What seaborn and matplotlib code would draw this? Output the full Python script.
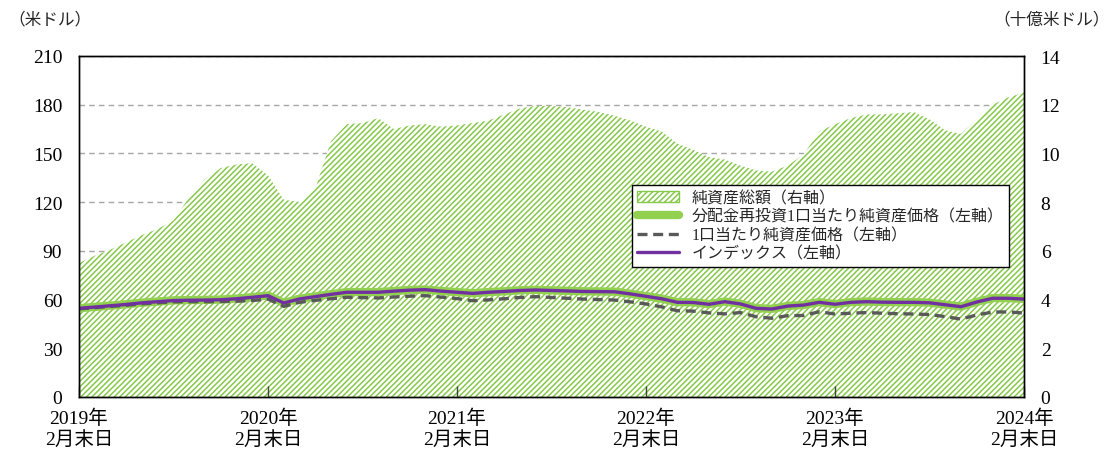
import numpy as np
import pandas as pd
import matplotlib
matplotlib.use('Agg')
import matplotlib.pyplot as plt
import seaborn as sns
from matplotlib.patches import Patch
from matplotlib.lines import Line2D

# monthly points, 2019-02 .. 2024-02 (month-end)
months = list(range(61))

# net assets (right axis, billion USD)
net_assets = [5.5, 5.8, 6.05, 6.35, 6.65, 6.9, 7.25, 8.2, 8.95, 9.4,
              9.55, 9.6, 9.1, 8.1, 8.0, 8.55, 10.5, 11.2, 11.25, 11.45,
              11.0, 11.15, 11.2, 11.1, 11.15, 11.25, 11.35, 11.6, 11.85, 11.95,
              11.95, 11.9, 11.8, 11.7, 11.55, 11.35, 11.1, 10.9, 10.4, 10.15,
              9.85, 9.75, 9.5, 9.3, 9.25, 9.5, 9.95, 10.9, 11.2, 11.45,
              11.6, 11.6, 11.65, 11.7, 11.4, 10.95, 10.8, 11.4, 12.0, 12.3,
              12.5]

# NAV per unit with distributions reinvested (left axis, USD)
nav_reinvest = [54.7, 55.5, 56.3, 57.1, 58.1, 58.8, 59.5, 59.7, 59.8, 60.0,
                60.6, 61.5, 62.5, 58.0, 60.5, 61.9, 63.3, 64.6, 64.6, 64.6,
                65.3, 65.9, 66.2, 65.3, 64.6, 63.9, 64.6, 65.1, 65.7, 66.0,
                65.7, 65.4, 65.1, 65.0, 64.9, 63.6, 62.1, 60.6, 58.4, 58.3,
                57.2, 58.8, 57.4, 54.7, 54.3, 56.1, 56.7, 58.4, 57.2, 58.4,
                58.8, 58.5, 58.4, 58.4, 58.1, 56.9, 55.7, 58.6, 60.9, 60.9,
                60.4]

# NAV per unit (left axis, USD)
nav_unit = [54.3, 55.0, 55.8, 56.5, 57.4, 58.0, 58.6, 58.7, 58.7, 58.8,
            59.0, 59.4, 60.3, 55.8, 58.3, 59.5, 60.5, 61.4, 61.2, 61.0,
            61.6, 62.1, 62.4, 61.5, 60.6, 59.3, 59.8, 60.5, 61.3, 61.8,
            61.3, 60.8, 60.3, 60.0, 59.7, 58.6, 57.3, 55.5, 53.1, 52.9,
            51.8, 51.2, 52.0, 49.4, 48.5, 50.1, 50.2, 52.5, 51.1, 51.6,
            52.0, 51.6, 51.3, 51.1, 50.8, 49.5, 48.0, 50.5, 52.3, 52.4,
            51.7]

# index (left axis, USD)
index_vals = [54.6, 55.4, 56.2, 57.0, 58.0, 58.7, 59.4, 59.6, 59.7, 59.9,
              60.5, 61.4, 62.4, 57.9, 60.4, 61.8, 63.2, 64.5, 64.5, 64.5,
              65.2, 65.8, 66.1, 65.2, 64.5, 63.8, 64.5, 65.0, 65.6, 65.9,
              65.6, 65.3, 65.0, 64.9, 64.8, 63.5, 62.0, 60.5, 58.3, 58.2,
              57.1, 58.7, 57.3, 54.6, 54.2, 56.0, 56.6, 58.3, 57.1, 58.3,
              58.7, 58.4, 58.3, 58.3, 58.0, 56.8, 55.6, 58.5, 60.8, 60.8,
              60.3]

year_ticks = [0, 12, 24, 36, 48, 60]
year_labels = ['2019年\n2月末日', '2020年\n2月末日', '2021年\n2月末日',
               '2022年\n2月末日', '2023年\n2月末日', '2024年\n2月末日']
left_ticks = [0, 30, 60, 90, 120, 150, 180, 210]
right_ticks = [0, 2, 4, 6, 8, 10, 12, 14]

LBL_AREA = '純資産総額（右軸）'
LBL_REINV = '分配金再投資1口当たり純資産価格（左軸）'
LBL_NAV = '1口当たり純資産価格（左軸）'
LBL_IDX = 'インデックス（左軸）'

GREEN = '#92d050'
HATCH_GREEN = '#86c84a'
PURPLE = '#7030a0'
DGRAY = '#595959'

sns.set_theme(style='white')
plt.rcParams['font.family'] = ['Liberation Serif', 'Noto Sans CJK JP']
plt.rcParams['hatch.linewidth'] = 1.1
plt.rcParams['axes.unicode_minus'] = False

df = pd.DataFrame({'month': months, 'reinvest': nav_reinvest,
                   'nav': nav_unit, 'index': index_vals, 'assets': net_assets})

fig = plt.figure(figsize=(11.14, 4.56), dpi=100)
ax = fig.add_axes([79 / 1114, 1 - 398 / 456, 945 / 1114, 341 / 456])
ax2 = ax.twinx()

# hatched area on the right axis, grid lives there too (behind the area)
ax2.fill_between(df['month'], 0, df['assets'], facecolor='white',
                 edgecolor=HATCH_GREEN, hatch='//////', linewidth=0, zorder=2)
ax2.set_ylim(0, 14)
ax2.set_yticks(right_ticks)
ax2.yaxis.grid(True, linestyle=(0, (4, 3)), color='#a6a6a6', linewidth=1.0)
ax2.set_axisbelow(True)

ax.set_zorder(ax2.get_zorder() + 1)
ax.patch.set_visible(False)

sns.lineplot(data=df, x='month', y='reinvest', ax=ax, color=GREEN,
             linewidth=6, legend=False)
sns.lineplot(data=df, x='month', y='nav', ax=ax, color=DGRAY,
             linewidth=2.4, linestyle=(0, (3, 1.7)), legend=False)
sns.lineplot(data=df, x='month', y='index', ax=ax, color=PURPLE,
             linewidth=2.4, legend=False)

ax.set_xlim(0, 60)
ax.set_ylim(0, 210)
ax.set_yticks(left_ticks)
ax.set_xticks(year_ticks)
ax.set_xticklabels(year_labels, linespacing=1.25)
ax.set_xlabel('')
ax.set_ylabel('')

ax.tick_params(axis='y', length=0, pad=12, labelsize=14, colors='black')
ax2.tick_params(axis='y', length=0, pad=12, labelsize=14, colors='black')
ax.tick_params(axis='x', direction='in', length=8, width=1, color='#404040',
               pad=8, labelsize=14, labelcolor='black')
ax.xaxis.set_ticks_position('bottom')

for a in (ax, ax2):
    for sp in a.spines.values():
        sp.set_visible(True)
        sp.set_color('black')
        sp.set_linewidth(1.0)

handles = [
    Patch(facecolor='white', edgecolor=HATCH_GREEN, hatch='//////', linewidth=1.0),
    Line2D([], [], color=GREEN, linewidth=6),
    Line2D([], [], color=DGRAY, linewidth=2.4, linestyle=(0, (3, 1.7))),
    Line2D([], [], color=PURPLE, linewidth=2.4),
]
leg = ax.legend(handles, [LBL_AREA, LBL_REINV, LBL_NAV, LBL_IDX],
                loc='upper left', bbox_to_anchor=(0.585, 0.622),
                frameon=True, fancybox=False, fontsize=11.5,
                borderpad=0.35, labelspacing=0.15, handlelength=2.6,
                handletextpad=0.8, borderaxespad=0)
leg.get_frame().set_edgecolor('black')
leg.get_frame().set_linewidth(1.0)
leg.get_frame().set_facecolor('white')
leg.get_frame().set_alpha(1)

fig.text(8 / 1114, 1 - 20 / 456, '（米ドル）', fontsize=12,
         ha='left', va='center')
fig.text(1110 / 1114, 1 - 20 / 456, '（十億米ドル）', fontsize=12,
         ha='right', va='center')

fig.savefig('out.png', dpi=100)
